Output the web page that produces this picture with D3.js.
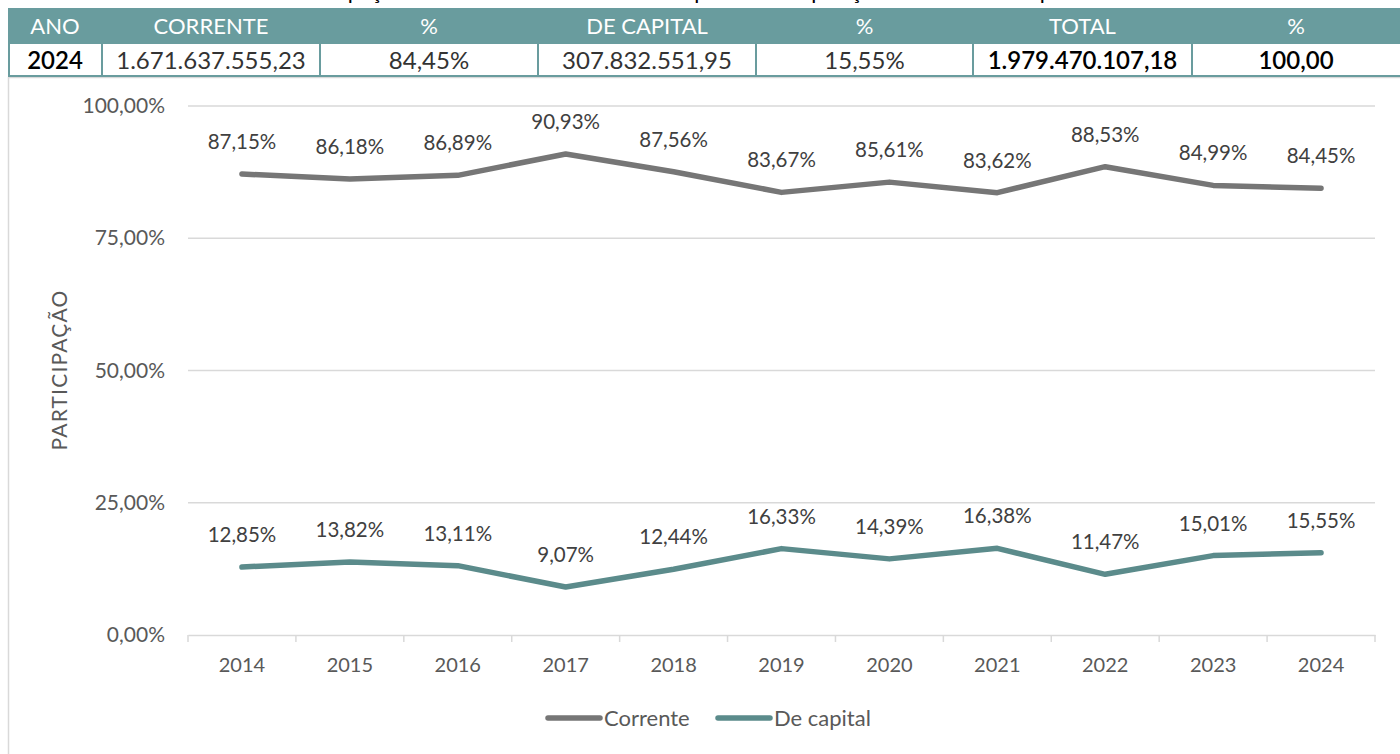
<!DOCTYPE html>
<html>
<head>
<meta charset="utf-8">
<script src="https://cdn.jsdelivr.net/npm/d3@7"></script>
<style>
  html, body { margin: 0; padding: 0; background: #ffffff; }
  svg { display: block; }
</style>
</head>
<body>
<svg id="chart" width="1400" height="754"></svg>
<script>
// ---- data ----
const years = ["2014","2015","2016","2017","2018","2019","2020","2021","2022","2023","2024"];
const corrente = [87.15, 86.18, 86.89, 90.93, 87.56, 83.67, 85.61, 83.62, 88.53, 84.99, 84.45];
const deCapital = [12.85, 13.82, 13.11, 9.07, 12.44, 16.33, 14.39, 16.38, 11.47, 15.01, 15.55];
const yTicks = [0, 25, 50, 75, 100];
const seriesNames = ["Corrente", "De capital"];
const tableHeaders = ["ANO", "CORRENTE", "%", "DE CAPITAL", "%", "TOTAL", "%"];
const tableValues = ["2024", "1.671.637.555,23", "84,45%", "307.832.551,95", "15,55%", "1.979.470.107,18", "100,00"];
const titleText = "Participação das receitas correntes e de capital na composição da receita total por ano";

const colors = { corrente: "#767676", capital: "#5b8b8b", teal: "#699c9e", grid: "#d9d9d9", axisText: "#595959", label: "#404040" };
const font = "Lato, 'Open Sans', sans-serif";

const svg = d3.select("#chart");

// ---- title, cut off at the top edge as in the reference ----
svg.append("text")
  .attr("x", 700).attr("y", -1)
  .attr("text-anchor", "middle")
  .attr("font-family", font).attr("font-size", 22)
  .attr("fill", "#000")
  .text(titleText);

// ---- chart frame ----
svg.append("rect")
  .attr("x", 8.5).attr("y", 77.5).attr("width", 1400).attr("height", 700)
  .attr("fill", "none").attr("stroke", colors.grid).attr("stroke-width", 1.5);

// ---- table ----
const colEdges = [8, 102, 320, 538, 756, 973, 1192, 1400];
const headerTop = 8, headerBottom = 43, rowBottom = 76;
const tg = svg.append("g");
tg.append("rect").attr("x", colEdges[0]).attr("y", headerTop)
  .attr("width", colEdges[7] - colEdges[0]).attr("height", headerBottom - headerTop)
  .attr("fill", colors.teal);
tg.append("rect").attr("x", colEdges[0] + 1).attr("y", headerBottom)
  .attr("width", colEdges[7] - colEdges[0]).attr("height", rowBottom - headerBottom)
  .attr("fill", "#fff").attr("stroke", colors.teal).attr("stroke-width", 2);
colEdges.slice(1, 7).forEach(x => {
  tg.append("line").attr("x1", x).attr("x2", x).attr("y1", headerBottom).attr("y2", rowBottom)
    .attr("stroke", colors.teal).attr("stroke-width", 2);
});
tableHeaders.forEach((h, i) => {
  tg.append("text")
    .attr("x", (colEdges[i] + colEdges[i + 1]) / 2).attr("y", 34)
    .attr("text-anchor", "middle")
    .attr("font-family", font).attr("font-size", 22)
    .attr("fill", "#fff").text(h);
});
tableValues.forEach((v, i) => {
  const dark = (i === 0 || i === 5 || i === 6);
  tg.append("text")
    .attr("x", (colEdges[i] + colEdges[i + 1]) / 2).attr("y", 69)
    .attr("text-anchor", "middle")
    .attr("font-family", font).attr("font-size", 24)
    .attr("font-weight", dark ? 600 : 400)
    .attr("fill", dark ? "#000" : "#333").text(v);
});

// ---- scales ----
const x = d3.scaleBand().domain(years).range([188, 1375]).padding(0);
const y = d3.scaleLinear().domain([0, 100]).range([635, 106]);
const cx = d => x(d) + x.bandwidth() / 2;

// gridlines
svg.append("g").selectAll("line").data(yTicks.filter(t => t > 0)).join("line")
  .attr("x1", 188).attr("x2", 1375)
  .attr("y1", d => y(d)).attr("y2", d => y(d))
  .attr("stroke", colors.grid).attr("stroke-width", 1.5);

// y axis labels
const fmtPct = v => d3.format(".2f")(v).replace(".", ",") + "%";
svg.append("g").selectAll("text").data(yTicks).join("text")
  .attr("x", 165).attr("y", d => y(d) + 7)
  .attr("text-anchor", "end")
  .attr("font-family", font).attr("font-size", 21)
  .attr("fill", colors.axisText)
  .text(d => fmtPct(d));

// x axis
const xAxis = svg.append("g").attr("transform", "translate(0,635)")
  .call(d3.axisBottom(x).tickSize(0).tickPadding(0));
xAxis.select(".domain").attr("stroke", colors.grid).attr("stroke-width", 1.5);
xAxis.selectAll(".tick text")
  .attr("y", 37).attr("dy", 0)
  .attr("font-family", font).attr("font-size", 20)
  .attr("fill", colors.axisText);
// tick marks between categories
const edges = years.map(d => x(d)).concat([x(years[years.length - 1]) + x.bandwidth()]);
svg.append("g").selectAll("line").data(edges).join("line")
  .attr("x1", d => d).attr("x2", d => d)
  .attr("y1", 635).attr("y2", 642)
  .attr("stroke", colors.grid).attr("stroke-width", 1.5);

// y axis title
svg.append("text")
  .attr("transform", "translate(67,370) rotate(-90)")
  .attr("text-anchor", "middle")
  .attr("font-family", font).attr("font-size", 21)
  .attr("letter-spacing", 1.2)
  .attr("fill", colors.axisText)
  .text("PARTICIPAÇÃO");

// ---- lines ----
const line = d3.line().x((d, i) => cx(years[i])).y(d => y(d));
[[corrente, colors.corrente], [deCapital, colors.capital]].forEach(([data, col]) => {
  svg.append("path").datum(data)
    .attr("d", line)
    .attr("fill", "none").attr("stroke", col)
    .attr("stroke-width", 5.5)
    .attr("stroke-linecap", "round").attr("stroke-linejoin", "round");
  svg.append("g").selectAll("text").data(data).join("text")
    .attr("x", (d, i) => cx(years[i])).attr("y", d => y(d) - 25)
    .attr("text-anchor", "middle")
    .attr("font-family", font).attr("font-size", 20.5)
    .attr("fill", colors.label)
    .text(d => fmtPct(d));
});

// ---- legend ----
const legendItems = [
  { name: seriesNames[0], color: colors.corrente, x: 548 },
  { name: seriesNames[1], color: colors.capital, x: 718 }
];
legendItems.forEach(it => {
  svg.append("line").attr("x1", it.x).attr("x2", it.x + 52).attr("y1", 718).attr("y2", 718)
    .attr("stroke", it.color).attr("stroke-width", 5.5).attr("stroke-linecap", "round");
  svg.append("text").attr("x", it.x + 56).attr("y", 725.5)
    .attr("font-family", font).attr("font-size", 22)
    .attr("fill", colors.axisText).text(it.name);
});
</script>
</body>
</html>
